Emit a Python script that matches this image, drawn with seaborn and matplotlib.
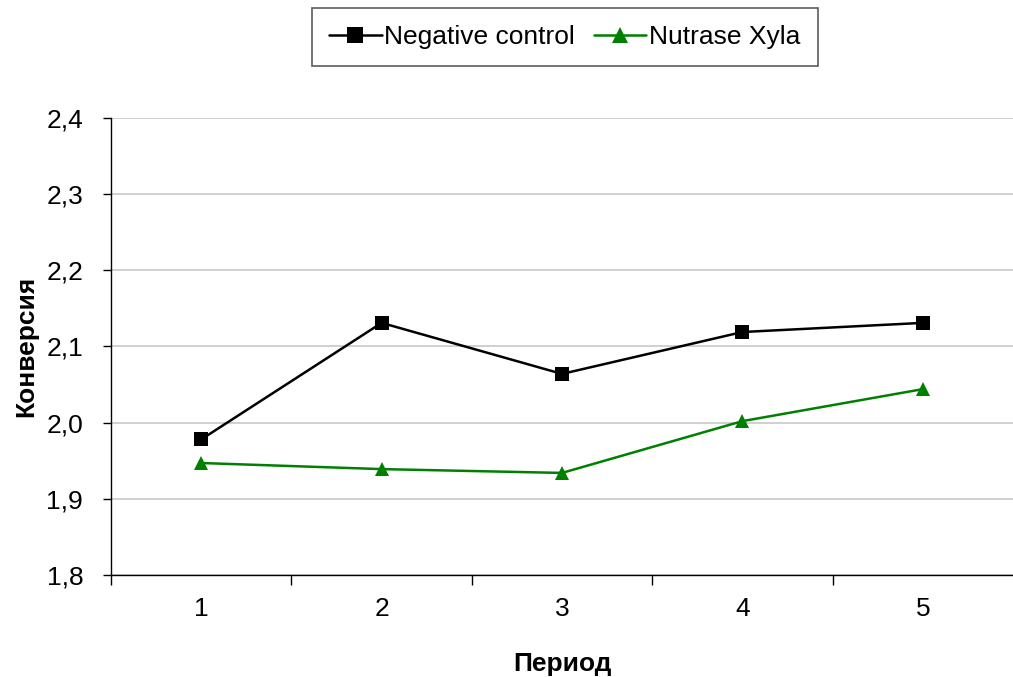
import pandas as pd
import matplotlib.pyplot as plt
import seaborn as sns
from matplotlib.ticker import FixedLocator, FuncFormatter

# data
periods = [1, 2, 3, 4, 5]
negative_control = [1.978, 2.131, 2.064, 2.119, 2.131]
nutrase_xyla = [1.947, 1.939, 1.934, 2.002, 2.044]
series_names = ["Negative control", "Nutrase Xyla"]

df = pd.DataFrame({
    "Период": periods * 2,
    "Конверсия": negative_control + nutrase_xyla,
    "series": [series_names[0]] * 5 + [series_names[1]] * 5,
})

sns.set_style("white")
plt.rcParams["font.family"] = ["Liberation Sans", "DejaVu Sans"]
plt.rcParams["text.color"] = "black"
plt.rcParams["axes.labelcolor"] = "black"
plt.rcParams["xtick.color"] = "black"
plt.rcParams["ytick.color"] = "black"

fig = plt.figure(figsize=(10.13, 6.77), dpi=100)
ax = fig.add_axes([0.1096, 0.1507, 0.8904, 0.675])

sns.lineplot(data=df, x="Период", y="Конверсия", hue="series", style="series",
             palette={series_names[0]: "black", series_names[1]: "#008000"},
             markers={series_names[0]: "s", series_names[1]: "^"},
             dashes=False, markersize=10, markeredgewidth=0, linewidth=1.8,
             ax=ax)

ax.set_xlim(0.5, 5.5)
ax.set_ylim(1.8, 2.4)
ax.set_yticks([1.8, 1.9, 2.0, 2.1, 2.2, 2.3, 2.4])
ax.yaxis.set_major_formatter(FuncFormatter(lambda v, p: f"{v:.1f}".replace(".", ",")))
ax.set_xticks(periods)
ax.xaxis.set_minor_locator(FixedLocator([0.5, 1.5, 2.5, 3.5, 4.5]))
ax.tick_params(axis="x", which="major", bottom=True, length=0, labelsize=19, pad=16)
ax.tick_params(axis="x", which="minor", bottom=True, length=7, width=1, direction="out")
ax.tick_params(axis="y", left=True, length=6, width=1, direction="out", labelsize=19, pad=14)
ax.grid(axis="y", color="#c8c8c8", linewidth=1.2)
ax.set_axisbelow(True)

for side in ["top", "right"]:
    ax.spines[side].set_visible(False)
for side in ["left", "bottom"]:
    ax.spines[side].set_color("black")
    ax.spines[side].set_linewidth(1)

ax.set_xlabel("Период", fontsize=19, fontweight="bold", labelpad=22)
ax.set_ylabel("Конверсия", fontsize=19, fontweight="bold", labelpad=6)

leg = ax.legend(loc="center", bbox_to_anchor=(0.503, 1.177), ncol=2, fontsize=19,
                frameon=True, fancybox=False, handlelength=2.0, handletextpad=0.1,
                columnspacing=0.7, borderpad=0.65, title=None, markerscale=1.1)
leg.get_frame().set_edgecolor("#333333")
leg.get_frame().set_linewidth(1.2)

plt.savefig("out.png", dpi=100)
